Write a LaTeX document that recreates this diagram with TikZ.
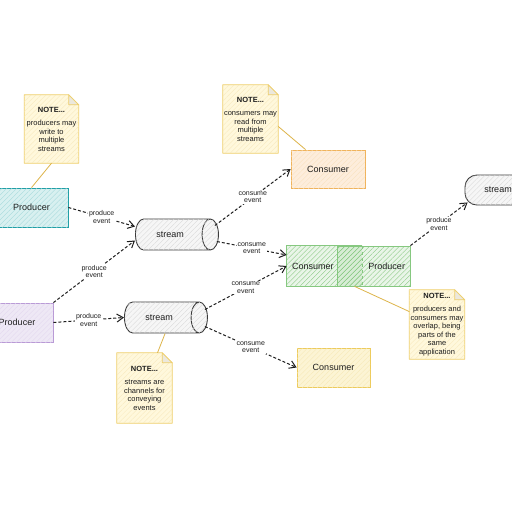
\documentclass[tikz,border=0pt]{standalone}
\usepackage{fontspec}
\setmainfont{Liberation Sans}
\usepackage{tikz}
\usetikzlibrary{arrows.meta,positioning,calc,shapes.geometric,patterns.meta,backgrounds}
\definecolor{ink}{HTML}{1E1E1E}
\definecolor{tealline}{HTML}{1F9FA6}
\definecolor{tealpale}{HTML}{D8F0F0}
\definecolor{lilacline}{HTML}{B99AD6}
\definecolor{lilacpale}{HTML}{EEE8F5}
\definecolor{orangeline}{HTML}{F0B35B}
\definecolor{orangepale}{HTML}{FDEDDC}
\definecolor{greenline}{HTML}{86C880}
\definecolor{yellowline}{HTML}{EDCB5C}
\definecolor{yellowpale}{HTML}{FCF4D4}
\definecolor{noteline}{HTML}{EFCF6B}
\definecolor{notepale}{HTML}{FFF8DC}
\definecolor{notefold}{HTML}{ECE8DC}
\definecolor{tieline}{HTML}{DDB54A}
\definecolor{streamline}{HTML}{3A3A3A}
\definecolor{streampale}{HTML}{F6F6F6}
\newcommand{\notepaper}[1]{%
  \begin{pgfonlayer}{background}
    \path[paper] (#1.south west) -- (#1.north west) -- ([xshift=-10pt]#1.north east)
      -- ([yshift=-10pt]#1.north east) -- (#1.south east) -- cycle;
    \path[fold] ([xshift=-10pt]#1.north east) -- ([xshift=-10pt,yshift=-10pt]#1.north east)
      -- ([yshift=-10pt]#1.north east) -- cycle;
  \end{pgfonlayer}}

\begin{document}
\begin{tikzpicture}[
  x=1pt,y=-1pt,
  every node/.style={font=\fontsize{9}{11}\selectfont,text=ink},
  hatch/.style={postaction={pattern={Lines[angle=45,distance=3.5pt,line width=0.35pt]},pattern color=#1}},
  box/.style={rectangle,line width=0.8pt,minimum width=73pt,minimum height=39pt},
  pipe/.style={cylinder,aspect=1.3,anchor=west,draw=streamline,fill=streampale,hatch=streamline!20,line width=0.9pt,minimum height=83pt,minimum width=31pt},
  note/.style={rectangle,minimum width=54pt,minimum height=68pt,inner sep=1pt,align=center,font=\fontsize{7.5}{8.5}\selectfont},
  paper/.style={draw=noteline,fill=notepale,hatch=noteline!45,line width=0.8pt,line join=round},
  fold/.style={draw=noteline,fill=notefold,line width=0.8pt,line join=round},
  greenedge/.style={draw=greenline,line width=0.8pt},
  flow/.style={-{Straight Barb[length=2.2mm,width=2.8mm]},line width=1pt,dash pattern=on 3pt off 2pt,draw=ink},
  tag/.style={fill=white,inner sep=1pt,align=center,font=\fontsize{7}{7.5}\selectfont},
  tie/.style={draw=tieline,line width=0.8pt}
]
\useasboundingbox (0,0) rectangle (512,512);
\begin{pgfonlayer}{background}
\fill[white] (0,0) rectangle (512,512);
\end{pgfonlayer}
\clip (0,0) rectangle (512,512);

\node[box,draw=tealline,fill=tealpale,hatch=tealline!40] (prodA) at (31.5,207.5) {Producer};
\node[box,draw=lilacline,fill=lilacpale,hatch=lilacline!40,minimum width=72pt] (prodB) at (17,322.5) {Producer};
\node[pipe] (streamA) at (135,234.5) {stream};
\node[pipe] (streamB) at (124,317.5) {stream};
\node[box,draw=orangeline,fill=orangepale,hatch=orangeline!40,minimum width=74pt,minimum height=38pt] (consA) at (328,169) {Consumer};
\node[box,fill=greenline,fill opacity=0.18,text opacity=1,hatch=greenline,minimum width=75pt,minimum height=40pt,text width=65pt,align=left] (consB) at (324.5,266) {Consumer};
\node[box,draw=greenline,fill=greenline,fill opacity=0.18,text opacity=1,hatch=greenline,minimum height=40pt,text width=63pt,align=right] (prodC) at (373.5,266) {Producer};
\draw[greenedge] (consB.north east) -- (consB.north west) -- (consB.south west) -- (consB.south east);
\draw[greenedge,dashed] (consB.north east) -- (consB.south east);
\node[box,draw=yellowline,fill=yellowpale,hatch=yellowline!45] (consC) at (333.5,367.5) {Consumer};
\node[box,draw=streamline,fill=streampale,hatch=streamline!20,line width=0.9pt,rounded corners=12pt,minimum width=66pt,minimum height=30pt] (streamC) at (498,190) {stream};

\node[note] (noteA) at (51.5,129) {\textbf{NOTE...}\\[5pt]producers may\\write to\\multiple\\streams};
\node[note,minimum width=55pt] (noteB) at (250.5,119) {\textbf{NOTE...}\\[5pt]consumers may\\read from\\multiple\\streams};
\node[note,minimum width=55pt,minimum height=70pt] (noteC) at (144.5,388) {\textbf{NOTE...}\\[5pt]streams are\\channels for\\conveying\\events};
\node[note,minimum height=69pt] (noteD) at (437,324.5) {\textbf{NOTE...}\\[5pt]producers and\\consumers may\\overlap, being\\parts of the\\same\\application};
\notepaper{noteA}
\notepaper{noteB}
\notepaper{noteC}
\notepaper{noteD}

\draw[tie] (noteA.south) -- (prodA.north);
\draw[tie] (noteB.-15) -- ([xshift=15pt]consA.north west);
\draw[tie] ([xshift=6pt]streamB.south) -- ([xshift=13pt]noteC.north);
\draw[tie] ([xshift=18pt]prodC.south west) -- (noteD.155);

\draw[flow] (prodA.east) -- node[tag] {produce\\event} ([yshift=8pt]streamA.west);
\draw[flow] (prodB.north east) -- node[tag] {produce\\event} ([yshift=-6pt]streamA.west);
\draw[flow] (prodB.east) -- node[tag] {produce\\event} (streamB.west);
\draw[flow] ([xshift=-4pt,yshift=9pt]streamA.east) -- node[tag] {consume\\event} (consA.west);
\draw[flow] ([xshift=-2pt,yshift=-7pt]streamA.east) -- node[tag] {consume\\event} ([yshift=11pt]consB.west);
\draw[flow] ([xshift=-3pt,yshift=8pt]streamB.east) -- node[tag] {consume\\event} (consB.west);
\draw[flow] ([xshift=-3pt,yshift=-9pt]streamB.east) -- node[tag] {consume\\event} (consC.west);
\draw[flow] (prodC.north east) -- node[tag] {produce\\event} ([xshift=3pt,yshift=3pt]streamC.south west);
\end{tikzpicture}
\end{document}
